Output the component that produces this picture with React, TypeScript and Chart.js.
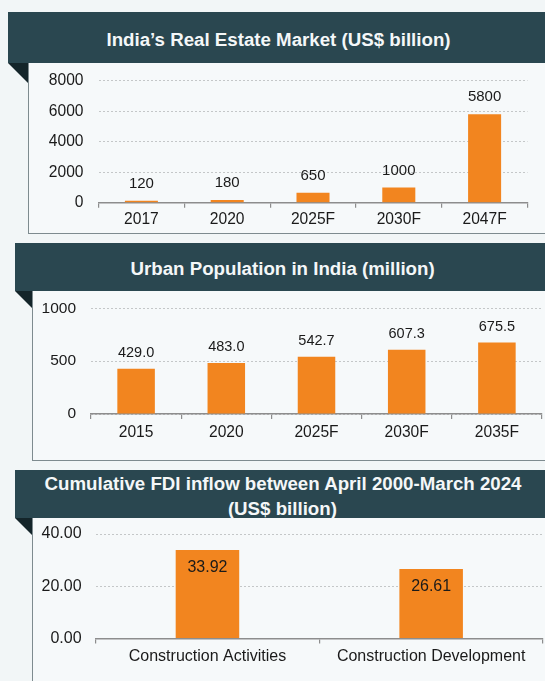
import React, { useEffect, useRef } from "react";
import { Chart, registerables } from "chart.js";

Chart.register(...registerables);

// ---- Data ----
const marketYears = ["2017", "2020", "2025F", "2030F", "2047F"];
const marketValues = [120, 180, 650, 1000, 5800];

const urbanYears = ["2015", "2020", "2025F", "2030F", "2035F"];
const urbanValues = [429.0, 483.0, 542.7, 607.3, 675.5];

const fdiCategories = ["Construction Activities", "Construction Development"];
const fdiValues = [33.92, 26.61];

const titles = [
  "India\u2019s Real Estate Market (US$ billion)",
  "Urban Population in India (million)",
  "Cumulative FDI inflow between April 2000-March 2024",
  "(US$ billion)",
];

// ---- Styles ----
const FONT = '"Liberation Sans", Arial, sans-serif';
const BAR = "#f2851f";
const HEADER = "#2a4750";
const FOLD = "#14252a";
const TEXT = "#1a1a1a";
const BG = "#f2f6f7";
const BOX_BG = "#f6f9fa";
const BOX_BORDER = "#7e8b8f";

type PanelChartProps = {
  left: number;
  top: number;
  width: number;
  height: number;
  labels: string[];
  values: number[];
  max: number;
  step: number;
  yWidth: number;
  yGap: number;
  xHeight: number;
  xPad: number;
  padTop: number;
  padRight: number;
  barPct: number;
  tickSize: number;
  xTickSize: number;
  valSize: number;
  valOffset: number;
  tickFmt: (v: number) => string;
  valFmt: (v: number) => string;
  inside: boolean;
};

function PanelChart(p: PanelChartProps) {
  const ref = useRef<HTMLCanvasElement | null>(null);
  useEffect(() => {
    if (!ref.current) return;
    const labelPlugin = {
      id: "valueLabels",
      afterDatasetsDraw(chart: any) {
        const ctx = chart.ctx;
        const meta = chart.getDatasetMeta(0);
        ctx.save();
        ctx.font = `${p.valSize}px ${FONT}`;
        ctx.fillStyle = TEXT;
        ctx.textAlign = "center";
        ctx.textBaseline = "middle";
        meta.data.forEach((bar: any, i: number) => {
          const v = chart.data.datasets[0].data[i] as number;
          const y = p.inside ? bar.y + p.valOffset : bar.y - p.valOffset;
          ctx.fillText(p.valFmt(v), bar.x, y);
        });
        ctx.restore();
      },
    };
    const chart = new Chart(ref.current, {
      type: "bar",
      data: {
        labels: p.labels,
        datasets: [
          {
            data: p.values,
            backgroundColor: BAR,
            borderWidth: 0,
            categoryPercentage: 1,
            barPercentage: p.barPct,
          },
        ],
      },
      options: {
        responsive: false,
        animation: false,
        events: [],
        layout: { padding: { top: p.padTop, right: p.padRight, left: 0, bottom: 0 } },
        plugins: { legend: { display: false }, tooltip: { enabled: false } },
        scales: {
          x: {
            afterFit: (s: any) => {
              s.height = p.xHeight;
            },
            grid: {
              display: true,
              drawOnChartArea: false,
              drawTicks: true,
              tickLength: 5,
              color: "#8d8d8d",
              lineWidth: 1.2,
              offset: true,
            },
            border: { display: true, color: "#8d8d8d", width: 1.5 },
            ticks: {
              padding: p.xPad,
              color: TEXT,
              font: { family: FONT, size: p.xTickSize },
              maxRotation: 0,
              autoSkip: false,
            },
          },
          y: {
            min: 0,
            max: p.max,
            afterFit: (s: any) => {
              s.width = p.yWidth;
            },
            grid: {
              color: "#c4c7c8",
              lineWidth: 1,
              drawTicks: true,
              tickLength: p.yGap,
              tickColor: "rgba(0,0,0,0)",
            },
            border: { display: false, dash: [2, 2] },
            ticks: {
              stepSize: p.step,
              padding: 0,
              color: TEXT,
              font: { family: FONT, size: p.tickSize },
              callback: (v: any) => p.tickFmt(Number(v)),
            },
          },
        },
      },
      plugins: [labelPlugin],
    });
    return () => chart.destroy();
  }, []);
  return (
    <canvas
      ref={ref}
      width={p.width}
      height={p.height}
      style={{
        position: "absolute",
        left: p.left,
        top: p.top,
        width: p.width,
        height: p.height,
      }}
    />
  );
}

function Header(props: { left: number; top: number; height: number; boxLeft: number }) {
  const { left, top, height, boxLeft } = props;
  const foldW = boxLeft - left;
  return (
    <>
      <div
        style={{
          position: "absolute",
          left,
          top,
          width: 545 - left,
          height,
          background: HEADER,
        }}
      />
      <div
        style={{
          position: "absolute",
          left,
          top: top + height,
          width: 0,
          height: 0,
          borderTop: `${foldW}px solid ${FOLD}`,
          borderLeft: `${foldW}px solid transparent`,
        }}
      />
    </>
  );
}

function Title(props: { cx: number; top: number; text: string }) {
  return (
    <div
      style={{
        position: "absolute",
        left: props.cx,
        top: props.top,
        transform: "translateX(-50%)",
        whiteSpace: "nowrap",
        fontFamily: FONT,
        fontWeight: "bold",
        fontSize: 18.7,
        lineHeight: "20px",
        color: "#f4f7f8",
      }}
    >
      {props.text}
    </div>
  );
}

function Box(props: { left: number; top: number; bottom: number; borderBottom: boolean }) {
  return (
    <div
      style={{
        position: "absolute",
        left: props.left,
        top: props.top,
        width: 545 - props.left + 10,
        height: props.bottom - props.top,
        background: BOX_BG,
        borderLeft: `1.5px solid ${BOX_BORDER}`,
        borderBottom: props.borderBottom ? `1.5px solid ${BOX_BORDER}` : "none",
        boxSizing: "border-box",
      }}
    />
  );
}

export default function App() {
  return (
    <div
      style={{
        position: "fixed",
        left: 0,
        top: 0,
        width: 545,
        height: 681,
        background: BG,
        overflow: "hidden",
      }}
    >
      {/* Panel 1 */}
      <Box left={27.5} top={63} bottom={234} borderBottom={true} />
      <Header left={8} top={12} height={51} boxLeft={28} />
      <Title cx={278.5} top={30} text={titles[0]} />
      <PanelChart
        left={28}
        top={64}
        width={517}
        height={169}
        labels={marketYears}
        values={marketValues}
        max={8000}
        step={2000}
        yWidth={70.5}
        yGap={15}
        xHeight={30.3}
        xPad={2.7}
        padTop={16.7}
        padRight={17.5}
        barPct={0.385}
        tickSize={15.6}
        xTickSize={15.6}
        valSize={15}
        valOffset={17}
        tickFmt={(v) => String(v)}
        valFmt={(v) => String(v)}
        inside={false}
      />

      {/* Panel 2 */}
      <Box left={32} top={291} bottom={461} borderBottom={true} />
      <Header left={15} top={243} height={48} boxLeft={32.5} />
      <Title cx={282.6} top={259.4} text={titles[1]} />
      <PanelChart
        left={32}
        top={291}
        width={513}
        height={169}
        labels={urbanYears}
        values={urbanValues}
        max={1000}
        step={500}
        yWidth={59}
        yGap={15}
        xHeight={46}
        xPad={4.7}
        padTop={17.3}
        padRight={3}
        barPct={0.416}
        tickSize={15.5}
        xTickSize={15.6}
        valSize={14.5}
        valOffset={15.5}
        tickFmt={(v) => String(v)}
        valFmt={(v) => v.toFixed(1)}
        inside={false}
      />

      {/* Panel 3 */}
      <Box left={32} top={518} bottom={700} borderBottom={false} />
      <Header left={15} top={470} height={48} boxLeft={32.5} />
      <Title cx={283} top={473.5} text={titles[2]} />
      <Title cx={282.4} top={499.2} text={titles[3]} />
      <PanelChart
        left={32}
        top={518}
        width={513}
        height={163}
        labels={fdiCategories}
        values={fdiValues}
        max={40}
        step={20}
        yWidth={63.6}
        yGap={14}
        xHeight={42.5}
        xPad={3.9}
        padTop={16}
        padRight={2}
        barPct={0.284}
        tickSize={16}
        xTickSize={16}
        valSize={16}
        valOffset={17.5}
        tickFmt={(v) => v.toFixed(2)}
        valFmt={(v) => v.toFixed(2)}
        inside={true}
      />
    </div>
  );
}
